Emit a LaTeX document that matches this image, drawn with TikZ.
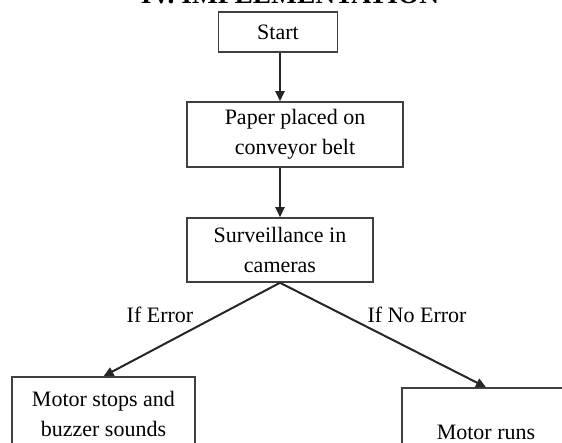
\documentclass[tikz,border=0pt]{standalone}
\usepackage{fontspec}
\setmainfont{Liberation Serif}
\usetikzlibrary{arrows.meta, positioning}

\begin{document}
\begin{tikzpicture}[
    x=0.5pt, y=-0.5pt,
    font=\fontsize{11}{15}\selectfont,
    block/.style={rectangle, draw=black!75, line width=0.75pt, fill=white, align=center, inner sep=0pt},
    arrow/.style={-{Triangle[length=5pt, width=4.5pt]}, line width=1pt, draw=black!85},
    label/.style={inner sep=0pt}
]
    \useasboundingbox (0,0) rectangle (562,443);
    \clip (0,0) rectangle (562,443);
    \node[font=\fontsize{13.7}{16}\selectfont\bfseries, anchor=base] (title) at (290,4) {IV. IMPLEMENTATION};
    \node[block, minimum width=59.5pt, minimum height=20pt] (start) at (278,32) {Start};
    \node[block, minimum width=108pt, minimum height=32.5pt] (paper) at (295,134.5) {Paper placed on\\ conveyor belt};
    \node[block, minimum width=93pt, minimum height=32pt] (camera) at (280,250) {Surveillance in\\ cameras};
    \node[block, minimum width=91.5pt, minimum height=36.5pt] (stop) at (103.5,413.5) {Motor stops and\\ buzzer sounds};
    \node[block, minimum width=84pt, minimum height=44pt] (runs) at (486,432) {Motor runs};
    \coordinate (fork) at (camera.south);

    \draw[arrow] ([xshift=1pt]start.south) -- ([xshift=1pt]start.south |- paper.north);
    \draw[arrow] (camera.north |- paper.south) -- (camera.north);
    \draw[arrow] (fork) -- (stop.north);
    \draw[arrow] (fork) -- (runs.north);

    \node[label] (error) at (160,315) {If Error};
    \node[label] (noerror) at (417,315) {If No Error};
\end{tikzpicture}
\end{document}
